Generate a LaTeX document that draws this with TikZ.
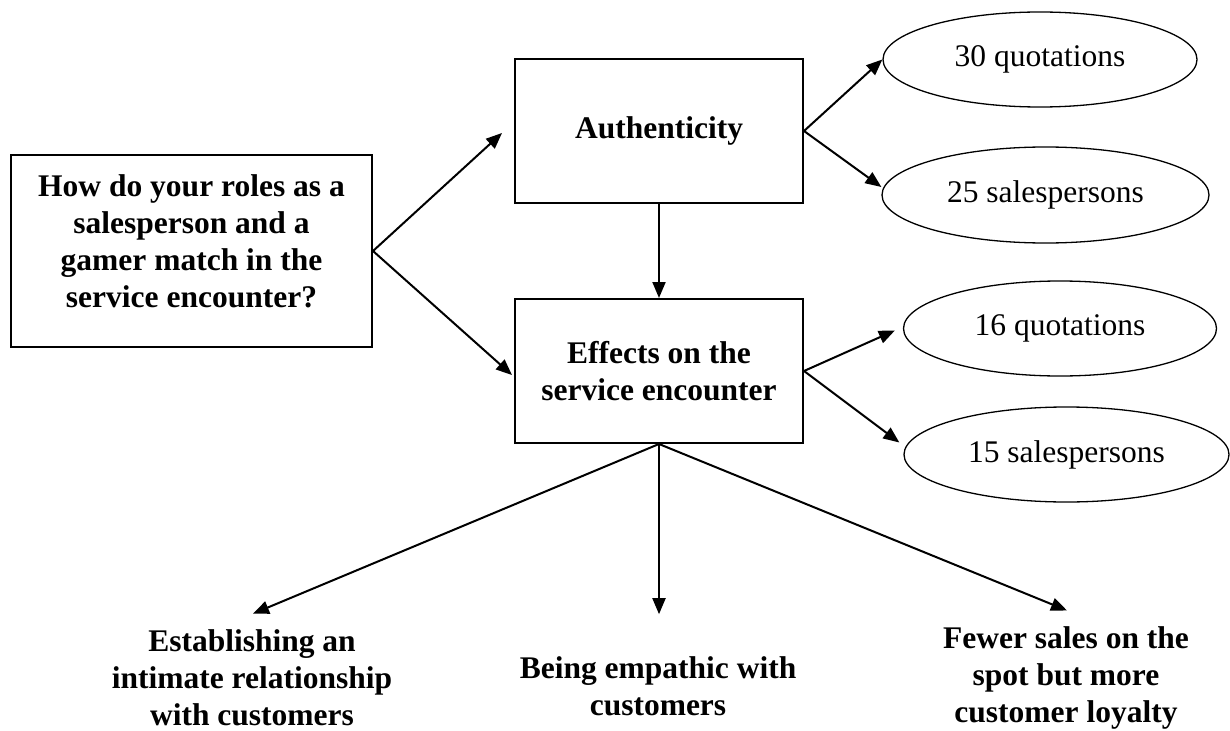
\documentclass[tikz,border=0pt]{standalone}
\usepackage{fontspec}
\setmainfont{Liberation Serif}
\usetikzlibrary{arrows.meta,shapes.geometric,calc}

\tikzset{
  txt/.style={font=\fontsize{31.5}{37}\selectfont, align=center},
  boxnode/.style={txt, draw, line width=2pt, inner sep=0pt, font=\fontsize{31.5}{37}\selectfont\bfseries},
  oval/.style={txt, draw, ellipse, line width=1.3pt, inner sep=0pt},
  outcome/.style={txt, inner sep=0pt, font=\fontsize{31.5}{37}\selectfont\bfseries},
  arr/.style={line width=2pt, -{Triangle[length=16pt,width=13pt]}},
}

\begin{document}
\begin{tikzpicture}[x=1pt, y=-1pt]
  \path[use as bounding box] (0,0) rectangle (1230,730);

  % research question and the two themes
  \node[boxnode, minimum width=361pt, minimum height=192pt, text depth=20pt] (q) at (191.5,251)
    {How do your roles as a\\salesperson and a\\gamer match in the\\service encounter?};
  \node[boxnode, minimum width=288pt, minimum height=144pt] (auth) at (659,131) {Authenticity};
  \node[boxnode, minimum width=288pt, minimum height=144pt] (eff) at (659,371)
    {Effects on the\\service encounter};

  % counts per theme
  \node[oval, minimum width=314pt, minimum height=95pt] (q30) at (1040,59.5) {30 quotations};
  \node[oval, minimum width=327pt, minimum height=96pt] (s25) at (1045.5,195) {25 salespersons};
  \node[oval, minimum width=313pt, minimum height=95pt] (q16) at (1060,328.5) {16 quotations};
  \node[oval, minimum width=325pt, minimum height=95pt] (s15) at (1066.5,454.5) {15 salespersons};

  % effects
  \node[outcome] (o1) at (252,678) {Establishing an\\intimate relationship\\with customers};
  \node[outcome] (o2) at (658,686) {Being empathic with\\customers};
  \node[outcome] (o3) at (1066,678) {Fewer sales on the\\spot but more\\customer loyalty};

  % connectors
  \draw[arr] (q.east) -- ($(auth.west)+(-12,2)$);
  \draw[arr] (q.east) -- ($(eff.west)+(-2,4)$);
  \draw[arr] (auth.south) -- (eff.north);
  \draw[arr] (auth.east) -- (q30.west);
  \draw[arr] (auth.east) -- ($(s25.west)+(0,-8)$);
  \draw[arr] (eff.east) -- ($(q16.west)+(-8,2)$);
  \draw[arr] (eff.east) -- ($(s15.west)+(-4,-12)$);
  \draw[arr] (eff.south) -- ($(o1.north)+(1,-16)$);
  \draw[arr] (eff.south) -- ($(o2.north)+(1,-42)$);
  \draw[arr] (eff.south) -- ($(o3.north)+(1,-16)$);
\end{tikzpicture}
\end{document}
